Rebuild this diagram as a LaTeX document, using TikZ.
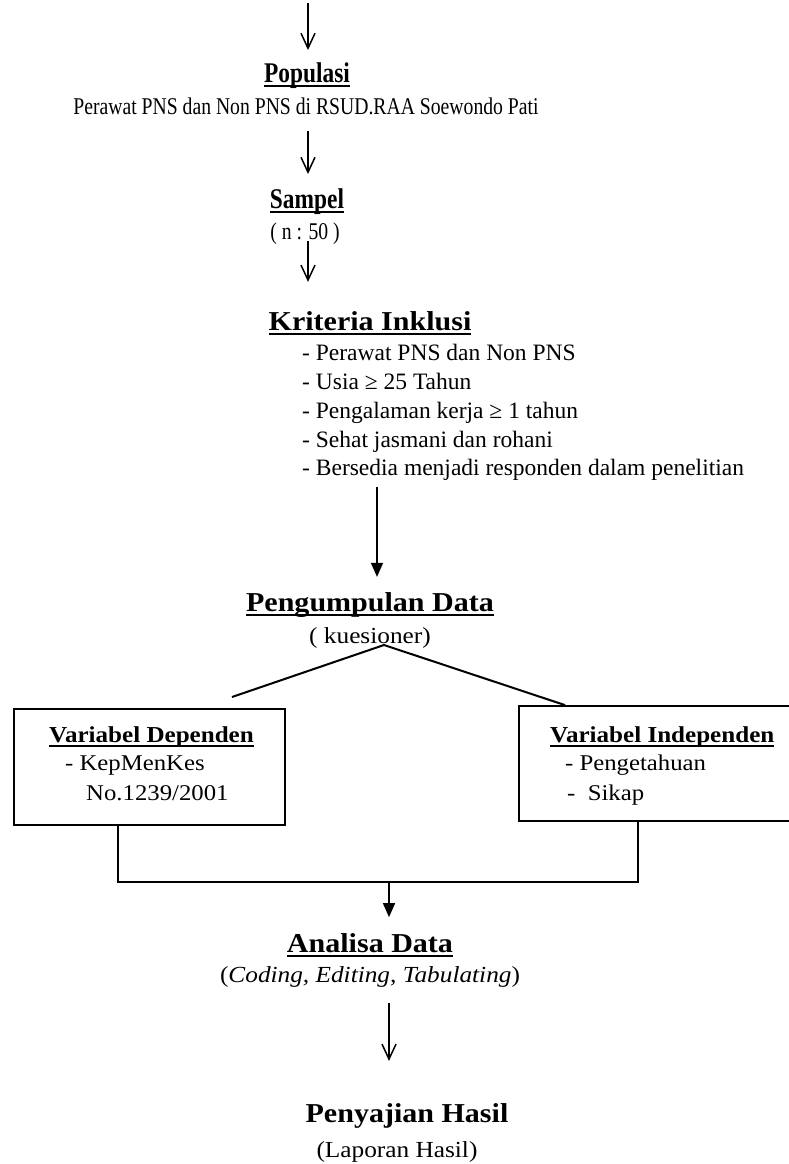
\documentclass[tikz,border=0pt]{standalone}
\usepackage{fontspec}
\setmainfont{Liberation Serif}
\newfontfamily\narrowfont{Liberation Serif}[FakeStretch=0.82]
\newfontfamily\widefont{Liberation Serif}[FakeStretch=1.1]
\usetikzlibrary{calc}
\usetikzlibrary{arrows.meta}

% thick underline for headings
\newcommand{\ulhd}[1]{\setbox0\hbox{#1}\rlap{\rule[-5pt]{\wd0}{2.4pt}}\box0}

\begin{document}
\begin{tikzpicture}[x=1pt, y=-1pt,
    txt/.style={inner sep=0pt, anchor=base},
    headN/.style={txt, font=\narrowfont\bfseries\fontsize{28.5}{32}\selectfont},
    bodyN/.style={txt, font=\narrowfont\fontsize{24}{28}\selectfont},
    headW/.style={txt, font=\widefont\bfseries\fontsize{27.3}{32}\selectfont},
    bodyW/.style={txt, font=\widefont\fontsize{23}{27}\selectfont},
    list/.style={txt, anchor=base west, font=\fontsize{23.5}{28}\selectfont},
    boxhead/.style={txt, anchor=base west, font=\widefont\bfseries\fontsize{22.8}{27}\selectfont},
    boxbody/.style={txt, anchor=base west, font=\widefont\fontsize{22.5}{27}\selectfont},
    box/.style={draw, line width=1.8pt, inner sep=0pt},
    garis/.style={line width=2pt},
    arr/.style={line width=1.5pt, -{Straight Barb[length=15pt, width=14pt]}},
    arrf/.style={line width=1.5pt, -{Triangle[length=14pt, width=12pt]}}]

\useasboundingbox (0,0) rectangle (788,1164);

% Populasi
\coordinate (top) at (308,3);
\node[headN] (pop) at (307,82) {\ulhd{Populasi}};
\node[bodyN] (popdesc) at (306,114) {Perawat PNS dan Non PNS di RSUD.RAA Soewondo Pati};

% Sampel
\node[headN] (sampel) at (307,208) {\ulhd{Sampel}};
\node[bodyN] (n50) at (305,239) {( n : 50 )};

% Kriteria inklusi
\node[headW] (krit) at (370,330) {\ulhd{Kriteria Inklusi}};
\node[list] (k1) at (302,360) {- Perawat PNS dan Non PNS};
\node[list] (k2) at (302,389) {- Usia ≥ 25 Tahun};
\node[list] (k3) at (302,418) {- Pengalaman kerja ≥ 1 tahun};
\node[list] (k4) at (302,447) {- Sehat jasmani dan rohani};
\node[list] (k5) at (302,475) {- Bersedia menjadi responden dalam penelitian};

% Pengumpulan data
\node[headW] (peng) at (370,611) {\ulhd{Pengumpulan Data}};
\node[bodyW] (kues) at (370,643) {( kuesioner)};

% Variabel boxes
\node[box, minimum width=271pt, minimum height=116pt] (dep) at (149.5,767) {};
\node[box, minimum width=276pt, minimum height=115pt] (indep) at (657,763.5) {};

\node[boxhead] (depT) at (49,742) {\ulhd{Variabel Dependen}};
\node[boxbody] (dep1) at (65,770) {- KepMenKes};
\node[boxbody] (dep2) at (86,800) {No.1239/2001};

\node[boxhead] (indepT) at (550,742) {\ulhd{Variabel Independen}};
\node[boxbody] (indep1) at (565,770) {- Pengetahuan};
\node[boxbody] (indep2) at (567,800) {-\ \ Sikap};

% Analisa data
\node[headW] (ana) at (370,952) {\ulhd{Analisa Data}};
\node[bodyW] (coding) at (370,982) {(\textit{Coding, Editing, Tabulating})};

% Penyajian hasil
\node[headW] (saji) at (407,1122) {Penyajian Hasil};
\node[bodyW] (lapor) at (397,1157) {(Laporan Hasil)};

% Arrows
\draw[arr, shorten >=12pt] (top) -- (top |- pop.north);
\draw[arr, shorten <=16pt, shorten >=14pt] (popdesc.south -| top) -- (top |- sampel.north);
\draw[arr, shorten <=-3pt, shorten >=29pt] (n50.south -| top) -- (top |- krit.north);

\coordinate (ax4) at (377,0);
\draw[arrf, shorten <=7pt, shorten >=15pt] (k5.south -| ax4) -- (ax4 |- peng.north);

% Split to variables
\coordinate (apex) at (384,645);
\coordinate (sl) at (232,697);
\coordinate (sr) at (565,0);
\draw[garis] (sl) -- (apex) -- (sr |- indep.north);

% Join to analysis
\coordinate (bl) at (118,882);
\coordinate (br) at (638,882);
\coordinate (bm) at (389,882);
\draw[garis] (bl |- dep.south) -- (bl) -- (br) -- (br |- indep.south);
\draw[arrf, shorten >=15.7pt] (bm) -- (bm |- ana.north);
\draw[arr, shorten <=16pt, shorten >=42pt] (coding.south -| bm) -- (bm |- saji.north);

\end{tikzpicture}
\end{document}
